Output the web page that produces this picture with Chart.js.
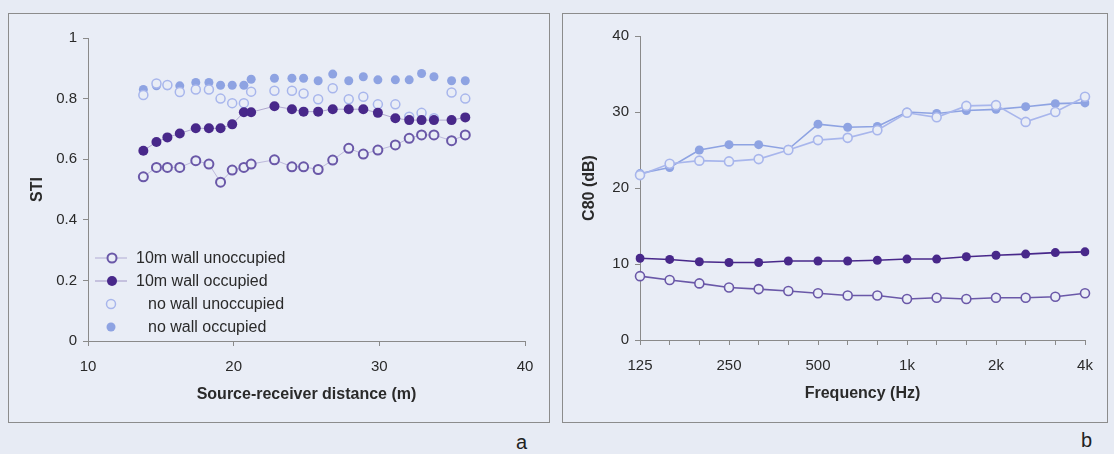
<!DOCTYPE html>
<html>
<head>
<meta charset="utf-8">
<script src="https://cdn.jsdelivr.net/npm/chart.js@4.4.0/dist/chart.umd.min.js"></script>
<style>
  html, body { margin: 0; padding: 0; width: 1114px; height: 454px; overflow: hidden;
               background: #e7ebf4; font-family: 'Liberation Sans', Arial, sans-serif; }
  .panel { position: absolute; top: 13px; height: 408px; border: 1px solid #8c8c8c; background: #e9edf6; }
  #pa { left: 8px; width: 540px; }
  #pb { left: 562px; width: 544px; }
  .panel canvas { display: block; }
  .tag { position: absolute; font-size: 20px; color: #222; line-height: 1; }
</style>
</head>
<body>
<div class="panel" id="pa"><canvas id="stiChart" width="540" height="408"></canvas></div>
<div class="panel" id="pb"><canvas id="c80Chart" width="544" height="408"></canvas></div>
<div class="tag" style="left:516px; top:432px;">a</div>
<div class="tag" style="left:1081px; top:430px;">b</div>
<script>
/* ---- panel a: STI vs source-receiver distance ---- */
const distances      = [13.8, 14.7, 15.45, 16.3, 17.4, 18.3, 19.1, 19.9, 20.7, 21.2, 22.8, 24.0,
                        24.8, 25.8, 26.8, 27.9, 28.9, 29.9, 31.1, 32.05, 32.9, 33.75, 34.96, 35.9];
const wallUnoccSTI   = [0.542, 0.573, 0.573, 0.573, 0.595, 0.584, 0.524, 0.564, 0.573, 0.584, 0.598, 0.575,
                        0.575, 0.566, 0.597, 0.636, 0.617, 0.630, 0.647, 0.669, 0.680, 0.680, 0.661, 0.680];
const wallOccSTI     = [0.628, 0.657, 0.672, 0.685, 0.702, 0.702, 0.702, 0.715, 0.755, 0.755, 0.775, 0.765,
                        0.757, 0.757, 0.765, 0.765, 0.765, 0.753, 0.735, 0.729, 0.729, 0.729, 0.729, 0.738];
const noWallUnoccSTI = [0.812, 0.850, 0.845, 0.822, 0.830, 0.830, 0.800, 0.785, 0.785, 0.823, 0.826, 0.826,
                        0.817, 0.798, 0.834, 0.798, 0.806, 0.781, 0.781, 0.740, 0.753, 0.735, 0.820, 0.800];
const noWallOccSTI   = [0.830, 0.842, 0.842, 0.842, 0.853, 0.853, 0.844, 0.844, 0.844, 0.864, 0.867, 0.867,
                        0.867, 0.859, 0.881, 0.859, 0.872, 0.862, 0.862, 0.862, 0.883, 0.872, 0.859, 0.859];

/* ---- panel b: C80 vs frequency (1/3 octave) ---- */
const bands          = ['125', '160', '200', '250', '315', '400', '500', '630', '800',
                        '1k', '1.25k', '1.6k', '2k', '2.5k', '3.15k', '4k'];
const shownBands     = ['125', '250', '500', '1k', '2k', '4k'];
const wallUnoccC80   = [8.4, 7.9, 7.45, 6.9, 6.7, 6.45, 6.15, 5.85, 5.85, 5.4, 5.55, 5.4, 5.55, 5.55, 5.7, 6.15];
const wallOccC80     = [10.75, 10.6, 10.3, 10.2, 10.2, 10.4, 10.4, 10.4, 10.5, 10.65, 10.65, 10.95, 11.15, 11.3, 11.5, 11.6];
const noWallUnoccC80 = [21.7, 23.2, 23.6, 23.5, 23.8, 25.0, 26.3, 26.6, 27.6, 29.9, 29.3, 30.8, 30.9, 28.7, 30.0, 32.0];
const noWallOccC80   = [21.9, 22.7, 25.0, 25.7, 25.7, 25.1, 28.4, 28.0, 28.1, 30.0, 29.8, 30.2, 30.35, 30.7, 31.1, 31.2];

const seriesNames = ['10m wall unoccupied', '10m wall occupied', 'no wall unoccupied', 'no wall occupied'];

const BG = '#e9edf6';
const AXIS = '#8a8a8a';
const TEXT = '#2a2a2a';
const FONT = "'Liberation Sans', Arial, sans-serif";

const WALL_OPEN = '#6a58a8';
const WALL_FILL = '#48288a';
const NOWALL_OPEN = '#a8b6ec';
const NOWALL_FILL = '#8ea3e2';

function pts(xs, ys) { return xs.map((x, i) => ({ x, y: ys[i] })); }

function axisBase(title) {
  return {
    border: { color: AXIS, width: 1 },
    grid: { display: true, drawOnChartArea: false, drawTicks: true, tickLength: 5, color: AXIS },
    ticks: { color: TEXT, font: { family: FONT, size: 15 } },
    title: { display: true, text: title, color: TEXT, font: { family: FONT, size: 16, weight: 'bold' } }
  };
}

/* legend drawn inside the plot area of panel a */
const stiLegend = {
  id: 'stiLegend',
  afterDraw(chart) {
    const c = chart.ctx;
    const a = chart.chartArea;
    const h = Chart.helpers;
    c.save();
    c.font = '16px ' + FONT;
    c.textBaseline = 'middle';
    chart.data.datasets.forEach((ds, i) => {
      const y = a.bottom - 83 + i * 23;
      const hasLine = i < 2;
      const mx = hasLine ? a.left + 24 : a.left + 23;
      if (hasLine) {
        c.strokeStyle = ds.pointBorderColor;
        c.globalAlpha = 0.45;
        c.lineWidth = 1;
        c.beginPath(); c.moveTo(a.left + 7, y); c.lineTo(a.left + 39, y); c.stroke();
        c.globalAlpha = 1;
      }
      c.fillStyle = ds.pointBackgroundColor;
      c.strokeStyle = ds.pointBorderColor;
      c.lineWidth = ds.pointBorderWidth;
      h.drawPoint(c, { pointStyle: 'circle', radius: ds.pointRadius, borderWidth: ds.pointBorderWidth, rotation: 0 }, mx, y);
      c.fillStyle = TEXT;
      c.fillText(seriesNames[i], hasLine ? a.left + 48 : a.left + 60, y + 1);
    });
    c.restore();
  }
};

const xA = axisBase('Source-receiver distance (m)');
xA.type = 'linear'; xA.min = 10; xA.max = 40;
xA.ticks.stepSize = 10; xA.ticks.padding = 12;
xA.afterFit = s => { s.height = 67; };

const yA = axisBase('STI');
yA.min = 0; yA.max = 1;
yA.ticks.stepSize = 0.2; yA.ticks.padding = 6;
yA.ticks.callback = v => String(+v.toFixed(1));
yA.afterFit = s => { s.width = 64; };

new Chart(document.getElementById('stiChart'), {
  type: 'scatter',
  data: {
    datasets: [
      { label: seriesNames[0], data: pts(distances, wallUnoccSTI), showLine: true,
        borderColor: 'rgba(106,88,168,0.35)', borderWidth: 1,
        pointRadius: 4.5, pointBorderWidth: 2, pointBorderColor: WALL_OPEN, pointBackgroundColor: BG },
      { label: seriesNames[1], data: pts(distances, wallOccSTI), showLine: true,
        borderColor: 'rgba(72,40,138,0.35)', borderWidth: 1,
        pointRadius: 5, pointBorderWidth: 0, pointBorderColor: WALL_FILL, pointBackgroundColor: WALL_FILL },
      { label: seriesNames[2], data: pts(distances, noWallUnoccSTI), showLine: false,
        pointRadius: 4.5, pointBorderWidth: 1.5, pointBorderColor: NOWALL_OPEN, pointBackgroundColor: BG },
      { label: seriesNames[3], data: pts(distances, noWallOccSTI), showLine: false,
        pointRadius: 4.5, pointBorderWidth: 0, pointBorderColor: NOWALL_FILL, pointBackgroundColor: NOWALL_FILL }
    ]
  },
  options: {
    responsive: false, animation: false,
    layout: { padding: { left: 15, right: 24, top: 24, bottom: 14 } },
    plugins: { legend: { display: false }, tooltip: { enabled: false } },
    scales: { x: xA, y: yA }
  },
  plugins: [stiLegend]
});

/* ---- panel b ---- */
const xB = axisBase('Frequency (Hz)');
xB.type = 'category'; xB.offset = false;
xB.grid.offset = false;
xB.ticks.autoSkip = false; xB.ticks.maxRotation = 0; xB.ticks.padding = 12;
xB.ticks.callback = function (v, i) { const l = bands[i]; return shownBands.includes(l) ? l : ''; };
xB.afterFit = s => { s.height = 67; };

const yB = axisBase('C80 (dB)');
yB.min = 0; yB.max = 40;
yB.ticks.stepSize = 10; yB.ticks.padding = 6;
yB.afterFit = s => { s.width = 64; };

function lineSet(i, values, color, open) {
  return {
    label: seriesNames[i], data: values,
    borderColor: color, borderWidth: 1.6, tension: 0,
    pointRadius: 4.5, pointBorderWidth: open ? 1.6 : 0,
    pointBorderColor: color, pointBackgroundColor: open ? BG : color
  };
}

new Chart(document.getElementById('c80Chart'), {
  type: 'line',
  data: {
    labels: bands,
    datasets: [
      lineSet(0, wallUnoccC80, WALL_OPEN, true),
      lineSet(1, wallOccC80, WALL_FILL, false),
      lineSet(2, noWallUnoccC80, NOWALL_OPEN, true),
      lineSet(3, noWallOccC80, NOWALL_FILL, false)
    ]
  },
  options: {
    responsive: false, animation: false,
    layout: { padding: { left: 13, right: 22, top: 22, bottom: 15 } },
    plugins: { legend: { display: false }, tooltip: { enabled: false } },
    scales: { x: xB, y: yB }
  }
});
</script>
</body>
</html>
